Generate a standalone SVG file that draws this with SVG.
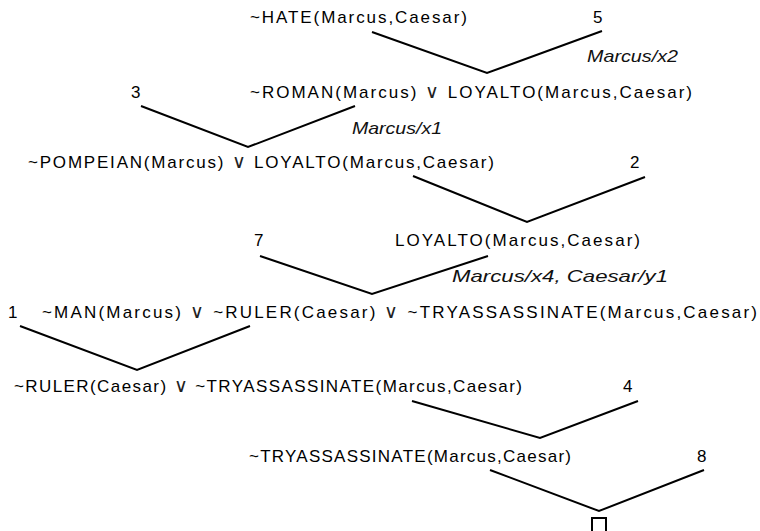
<svg xmlns="http://www.w3.org/2000/svg" width="760" height="531" viewBox="0 0 760 531">
<style>
  text { font-family: "Liberation Sans", Arial, "DejaVu Sans", sans-serif; font-size: 17px; fill: #000; }
  .sub { font-style: italic; font-size: 17px; fill: #111; }
  .or { font-family: "DejaVu Sans", sans-serif; font-size: 19px; font-weight: 200; fill: #222; }
  .edge { fill: none; stroke: #000; stroke-width: 2; stroke-linejoin: miter; }
</style>
<rect width="760" height="531" fill="#fff"/>
<g id="connectors">
  <polyline class="edge" points="372,32 487,73 602,31"/>
  <polyline class="edge" points="141,106 248,147 355,106"/>
  <polyline class="edge" points="413,176 527,222 645,177"/>
  <polyline class="edge" points="260,256 372,294 488,256"/>
  <polyline class="edge" points="20,326 137,370 250,326"/>
  <polyline class="edge" points="412,401 540,438 638,401"/>
  <polyline class="edge" points="490,470 599,511 704,470"/>
</g>
<g id="c1"><text x="250" y="23" textLength="217" lengthAdjust="spacing">~HATE(Marcus,Caesar)</text></g>
<g id="n5"><text x="593" y="23">5</text></g>
<g id="s1"><text class="sub" x="587" y="62" textLength="91" lengthAdjust="spacingAndGlyphs">Marcus/x2</text></g>
<g id="c2"><text x="250" y="98" textLength="442" lengthAdjust="spacing">~ROMAN(Marcus) <tspan class="or">∨</tspan> LOYALTO(Marcus,Caesar)</text></g>
<g id="n3"><text x="131" y="98">3</text></g>
<g id="s2"><text class="sub" x="352" y="134" textLength="90" lengthAdjust="spacingAndGlyphs">Marcus/x1</text></g>
<g id="c3"><text x="28" y="168" textLength="466" lengthAdjust="spacing">~POMPEIAN(Marcus) <tspan class="or">∨</tspan> LOYALTO(Marcus,Caesar)</text></g>
<g id="n2"><text x="630" y="168">2</text></g>
<g id="c4"><text x="395" y="246" textLength="245" lengthAdjust="spacing">LOYALTO(Marcus,Caesar)</text></g>
<g id="n7"><text x="254" y="246">7</text></g>
<g id="s3"><text class="sub" x="452" y="282" textLength="216" lengthAdjust="spacingAndGlyphs">Marcus/x4, Caesar/y1</text></g>
<g id="n1"><text x="8" y="318">1</text></g>
<g id="c5"><text x="42" y="318" textLength="715" lengthAdjust="spacing">~MAN(Marcus)  <tspan class="or">∨</tspan> ~RULER(Caesar) <tspan class="or">∨</tspan> ~TRYASSASSINATE(Marcus,Caesar)</text></g>
<g id="c6"><text x="14" y="392" textLength="508" lengthAdjust="spacing">~RULER(Caesar) <tspan class="or">∨</tspan> ~TRYASSASSINATE(Marcus,Caesar)</text></g>
<g id="n4"><text x="623" y="392">4</text></g>
<g id="c7"><text x="249" y="462" textLength="322" lengthAdjust="spacing">~TRYASSASSINATE(Marcus,Caesar)</text></g>
<g id="n8"><text x="697" y="462">8</text></g>
<g id="empty"><path class="edge" d="M592,535 V518 H606 V535"/></g>
</svg>
